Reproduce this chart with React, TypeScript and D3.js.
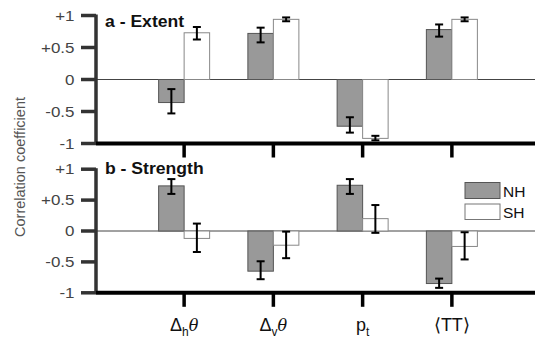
import React from "react";
import * as d3 from "d3";

const categories = ["dh", "dv", "pt", "TT"];
const series = ["NH", "SH"];
// Panel a - Extent
const extentNH = [-0.36, 0.72, -0.73, 0.78];
const extentNHLo = [-0.53, 0.58, -0.83, 0.67];
const extentNHHi = [-0.15, 0.81, -0.59, 0.86];
const extentSH = [0.73, 0.94, -0.92, 0.94];
const extentSHLo = [0.625, 0.91, -0.95, 0.91];
const extentSHHi = [0.82, 0.97, -0.88, 0.97];
// Panel b - Strength
const strengthNH = [0.73, -0.65, 0.74, -0.85];
const strengthNHLo = [0.6, -0.78, 0.6, -0.92];
const strengthNHHi = [0.84, -0.49, 0.84, -0.77];
const strengthSH = [-0.12, -0.23, 0.2, -0.25];
const strengthSHLo = [-0.34, -0.44, -0.03, -0.46];
const strengthSHHi = [0.12, -0.01, 0.42, -0.02];
const yTicks = [1, 0.5, 0, -0.5, -1];
const yTickLabels = ["+1", "+0.5", "0", "-0.5", "-1"];

const W = 535;
const H = 339;
const axisX = 96;
const rightX = 535;

const x = d3.scaleBand<string>().domain(categories).range([139.5, 496.5]);
const xInner = d3.scaleBand<string>().domain(series).range([-25.5, 25.5]);

const panels = [
  {
    title: "a - Extent",
    titleY: 26.5,
    y: d3.scaleLinear().domain([-1, 1]).range([143.5, 15.5]),
    nh: extentNH, nhLo: extentNHLo, nhHi: extentNHHi,
    sh: extentSH, shLo: extentSHLo, shHi: extentSHHi,
  },
  {
    title: "b - Strength",
    titleY: 174,
    y: d3.scaleLinear().domain([-1, 1]).range([292.8, 169.2]),
    nh: strengthNH, nhLo: strengthNHLo, nhHi: strengthNHHi,
    sh: strengthSH, shLo: strengthSHLo, shHi: strengthSHHi,
  },
];

const font = "'Liberation Sans', Arial, Helvetica, sans-serif";

function XLabel({ cat, cx }: { cat: string; cx: number }) {
  const base = 331;
  if (cat === "dh" || cat === "dv") {
    return (
      <text x={cx} y={base} textAnchor="middle" fontFamily={font} fontSize={18} fill="#111">
        <tspan>Δ</tspan>
        <tspan fontSize={12} dy={5}>{cat === "dh" ? "h" : "v"}</tspan>
        <tspan dy={-5} fontStyle="italic" fontFamily="'DejaVu Serif', serif" fontSize={16}>θ</tspan>
      </text>
    );
  }
  if (cat === "pt") {
    return (
      <text x={cx} y={base} textAnchor="middle" fontFamily={font} fontSize={18} fill="#111">
        <tspan>p</tspan>
        <tspan fontSize={12} dy={5}>t</tspan>
      </text>
    );
  }
  return (
    <text x={cx} y={base} textAnchor="middle" fontFamily={font} fontSize={18} fill="#111">
      ⟨TT⟩
    </text>
  );
}

function ErrorBar({ cx, y0, y1 }: { cx: number; y0: number; y1: number }) {
  const cw = 4;
  return (
    <g stroke="#000" strokeWidth={2}>
      <line x1={cx} x2={cx} y1={y0} y2={y1} />
      <line x1={cx - cw} x2={cx + cw} y1={y0} y2={y0} />
      <line x1={cx - cw} x2={cx + cw} y1={y1} y2={y1} />
    </g>
  );
}

export default function App() {
  return (
    <svg width={W} height={H} style={{ position: "absolute", left: 0, top: 0, background: "#fff" }}>
      <text
        transform={`translate(25,167) rotate(-90)`}
        textAnchor="middle"
        fontFamily={font}
        fontSize={14.5}
        fill="#555"
      >
        Correlation coefficient
      </text>
      {panels.map((p, pi) => {
        const y = p.y;
        return (
          <g key={pi}>
            {/* zero line */}
            <line x1={axisX} x2={rightX} y1={y(0)} y2={y(0)} stroke="#444" strokeWidth={1} />
            {/* bars */}
            {categories.map((c, i) => {
              const cx = x(c)! + x.bandwidth() / 2;
              const nx = cx + xInner("NH")!;
              const sx = cx + xInner("SH")!;
              const bw = xInner.bandwidth();
              return (
                <g key={c}>
                  <rect
                    x={nx}
                    y={Math.min(y(0), y(p.nh[i]))}
                    width={bw}
                    height={Math.abs(y(p.nh[i]) - y(0))}
                    fill="#999"
                    stroke="#555"
                    strokeWidth={1}
                  />
                  <rect
                    x={sx}
                    y={Math.min(y(0), y(p.sh[i]))}
                    width={bw}
                    height={Math.abs(y(p.sh[i]) - y(0))}
                    fill="#fff"
                    stroke="#888"
                    strokeWidth={1}
                  />
                  <ErrorBar cx={nx + bw / 2} y0={y(p.nhLo[i])} y1={y(p.nhHi[i])} />
                  <ErrorBar cx={sx + bw / 2} y0={y(p.shLo[i])} y1={y(p.shHi[i])} />
                </g>
              );
            })}
            {/* left axis */}
            <line x1={axisX} x2={axisX} y1={y(1) - 1} y2={y(-1)} stroke="#333" strokeWidth={3.5} />
            {yTicks.map((t, ti) => (
              <g key={ti}>
                <line x1={axisX - 15} x2={axisX} y1={y(t)} y2={y(t)} stroke="#333" strokeWidth={3.5} />
                <text
                  transform={`translate(74.5,${y(t)}) scale(1.13,1)`}
                  dy="0.35em"
                  textAnchor="end"
                  fontFamily={font}
                  fontSize={15}
                  fill="#444"
                >
                  {yTickLabels[ti]}
                </text>
              </g>
            ))}
            {/* bottom axis */}
            <line x1={axisX} x2={rightX} y1={y(-1)} y2={y(-1)} stroke="#000" strokeWidth={4} />
            {categories.map((c) => {
              const cx = x(c)! + x.bandwidth() / 2;
              return (
                <line key={c} x1={cx} x2={cx} y1={y(-1)} y2={y(-1) + 14} stroke="#000" strokeWidth={3.5} />
              );
            })}
            <text
              transform={`translate(105,${p.titleY}) scale(1.1,1)`}
              fontFamily={font}
              fontSize={16}
              fontWeight="bold"
              fill="#111"
            >
              {p.title}
            </text>
          </g>
        );
      })}
      {categories.map((c) => (
        <XLabel key={c} cat={c} cx={x(c)! + x.bandwidth() / 2} />
      ))}
      {/* legend */}
      <rect x={465} y={182.5} width={35} height={16} fill="#999" stroke="#555" strokeWidth={1} />
      <rect x={465} y={204} width={35} height={15.5} fill="#fff" stroke="#777" strokeWidth={1} />
      <text x={503} y={196.5} fontFamily={font} fontSize={15.5} fill="#111">NH</text>
      <text x={503} y={218} fontFamily={font} fontSize={15.5} fill="#111">SH</text>
    </svg>
  );
}
